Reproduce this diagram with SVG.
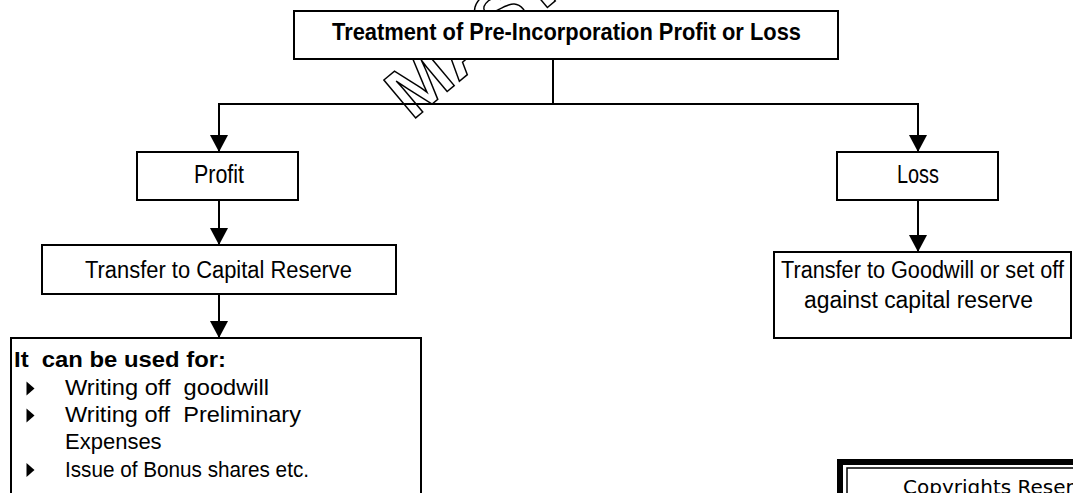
<svg xmlns="http://www.w3.org/2000/svg" width="1073" height="493" viewBox="0 0 1073 493">
<style>
.box{fill:#fff;stroke:#000;stroke-width:2}
.cn{fill:none;stroke:#000;stroke-width:2}
.nar{font-family:"Liberation Sans Narrow","Liberation Sans",Arial,sans-serif;fill:#000}
.reg{font-family:"Liberation Sans",Arial,sans-serif;fill:#000}
.wm{font-family:"Liberation Sans",Arial,sans-serif;font-weight:bold;fill:#fff;stroke:#000;stroke-width:1.5}
</style>
<defs>
<marker id="ah" viewBox="0 0 17 18" refX="17" refY="9" markerWidth="17" markerHeight="18" markerUnits="userSpaceOnUse" orient="auto">
<path d="M0,0 L17,9 L0,18 z" fill="#000"/>
</marker>
</defs>
<rect width="1073" height="493" fill="#fff"/>
<g id="watermark">
<text class="wm" x="0" y="0" font-size="72" transform="translate(412,121) rotate(-40)">MASTER</text>
</g>
<g id="connectors">
<line class="cn" x1="553" y1="59" x2="553" y2="104"/>
<line class="cn" x1="218" y1="104" x2="919" y2="104"/>
<line class="cn" x1="219" y1="104" x2="219" y2="152" marker-end="url(#ah)"/>
<line class="cn" x1="918" y1="104" x2="918" y2="152" marker-end="url(#ah)"/>
<line class="cn" x1="219" y1="200" x2="219" y2="245" marker-end="url(#ah)"/>
<line class="cn" x1="918" y1="200" x2="918" y2="252" marker-end="url(#ah)"/>
<line class="cn" x1="219" y1="294" x2="219" y2="338" marker-end="url(#ah)"/>
</g>
<g id="title">
<rect class="box" x="294" y="11" width="544" height="48"/>
<text class="nar" x="332" y="40" font-size="24" font-weight="bold" textLength="469" lengthAdjust="spacingAndGlyphs">Treatment of Pre-Incorporation Profit or Loss</text>
</g>
<g id="profit">
<rect class="box" x="137" y="152" width="161" height="48"/>
<text class="nar" x="194" y="183" font-size="25" textLength="50" lengthAdjust="spacingAndGlyphs">Profit</text>
</g>
<g id="loss">
<rect class="box" x="837" y="152" width="161" height="48"/>
<text class="nar" x="897" y="183" font-size="25" textLength="42" lengthAdjust="spacingAndGlyphs">Loss</text>
</g>
<g id="capital-reserve">
<rect class="box" x="42" y="245" width="354" height="49"/>
<text class="nar" x="85" y="278" font-size="23" textLength="267" lengthAdjust="spacingAndGlyphs">Transfer to Capital Reserve</text>
</g>
<g id="goodwill">
<rect class="box" x="774" y="252" width="297" height="86"/>
<text class="nar" x="781" y="278" font-size="23.5" textLength="283" lengthAdjust="spacingAndGlyphs">Transfer to Goodwill or set off</text>
<text class="nar" x="804" y="308" font-size="23.5" textLength="229" lengthAdjust="spacingAndGlyphs">against capital reserve</text>
</g>
<g id="uses">
<rect class="box" x="11" y="338" width="410" height="170"/>
<text class="reg" x="14" y="367" font-size="22.5" font-weight="bold" xml:space="preserve" textLength="212" lengthAdjust="spacingAndGlyphs">It  can be used for:</text>
<polygon points="26.5,381.5 34.5,388.5 26.5,395.5" fill="#000"/>
<polygon points="26.5,408.5 34.5,415.5 26.5,422.5" fill="#000"/>
<polygon points="26.5,463 34.5,470 26.5,477" fill="#000"/>
<text class="reg" x="65" y="395" font-size="22" xml:space="preserve" textLength="204" lengthAdjust="spacingAndGlyphs">Writing off  goodwill</text>
<text class="reg" x="65" y="422" font-size="22" xml:space="preserve" textLength="236" lengthAdjust="spacingAndGlyphs">Writing off  Preliminary</text>
<text class="reg" x="65" y="449" font-size="22">Expenses</text>
<text class="reg" x="65" y="477" font-size="22" textLength="244" lengthAdjust="spacingAndGlyphs">Issue of Bonus shares etc.</text>
</g>
<g id="copyright">
<rect x="840" y="462" width="260" height="60" fill="#fff" stroke="#000" stroke-width="6"/>
<rect x="847" y="468" width="250" height="50" fill="none" stroke="#000" stroke-width="1.5"/>
<text x="903" y="494" font-family="'DejaVu Sans',Verdana,sans-serif" font-size="20" fill="#000">Copyrights Reserved</text>
</g>
</svg>
